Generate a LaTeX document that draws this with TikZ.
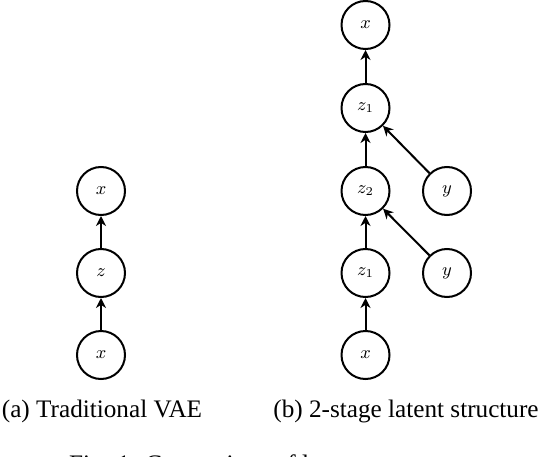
\documentclass[tikz,border=0pt]{standalone}
\usepackage{fontspec}
\setmainfont{Liberation Serif}
\usetikzlibrary{arrows.meta}

\begin{document}
\begin{tikzpicture}[x=0.5pt, y=0.5pt,
  var/.style={draw, circle, line width=1pt, minimum size=24pt, inner sep=0pt, font=\small},
  arr/.style={-{Stealth[length=5pt, width=5pt, inset=1.6pt]}, line width=1pt},
  subcap/.style={anchor=base, font=\fontsize{12.6}{15}\selectfont}]
\useasboundingbox (0,0) rectangle (540,456);

% (a) traditional VAE
\node[var] (xin) at (101,101) {$x$};
\node[var] (z) at (101,183) {$z$};
\node[var] (xout) at (101,265) {$x$};

\draw[arr] (xin) -- (z);
\draw[arr] (z) -- (xout);

% (b) 2-stage latent structure
\node[var] (xinb) at (365.5,101) {$x$};
\node[var] (zlow) at (365.5,183) {$z_1$};
\node[var] (ztwo) at (365.5,265) {$z_2$};
\node[var] (zone) at (365.5,348) {$z_1$};
\node[var] (xoutb) at (365.5,431) {$x$};
\node[var] (ylow) at (447,183) {$y$};
\node[var] (yhigh) at (447,265) {$y$};

\draw[arr] (xinb) -- (zlow);
\draw[arr] (zlow) -- (ztwo);
\draw[arr] (ztwo) -- (zone);
\draw[arr] (zone) -- (xoutb);
\draw[arr] (ylow) -- (ztwo);
\draw[arr] (yhigh) -- (zone);

\node[subcap] (capa) at (102,39) {(a) Traditional VAE};
\node[subcap] (capb) at (406,39) {(b) 2-stage latent structure};
\node[subcap, anchor=base west] (fig) at (62,-16) {Fig. 1: Comparison of latent structures.};
\end{tikzpicture}
\end{document}
